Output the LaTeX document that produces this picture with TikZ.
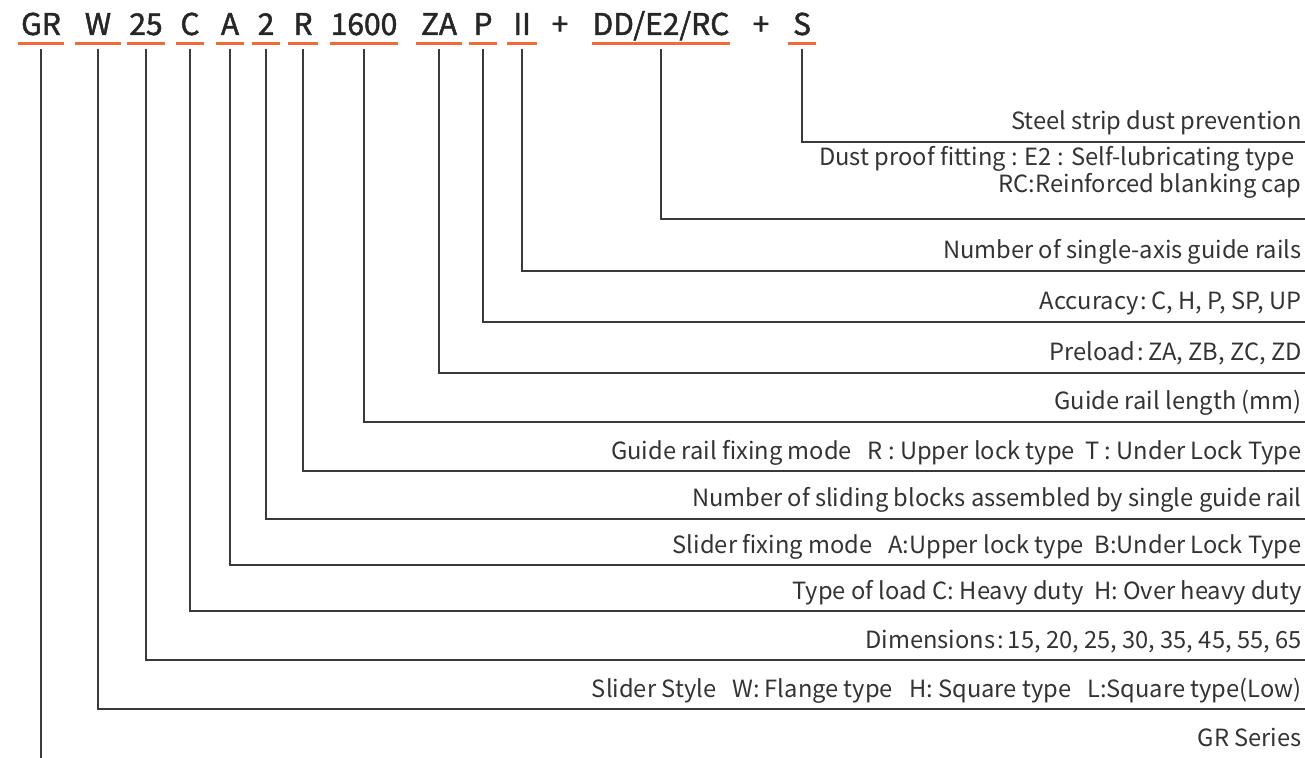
\documentclass[tikz,border=0pt]{standalone}
\usepackage{fontspec}
\setmainfont{Noto Sans CJK SC}
\newfontfamily\codefont{Noto Sans CJK SC}[FakeBold=1.6]
\usepackage{tikz}
\usetikzlibrary{positioning,calc}
\definecolor{CodeC}{HTML}{262626}
\definecolor{TextC}{HTML}{333333}
\definecolor{LineC}{HTML}{3A3A3A}
\definecolor{MarkC}{HTML}{F26A35}
\newcommand{\wcolon}{\kern1pt:\kern2pt}
\newcommand{\wgap}{\hspace*{8pt}}
\tikzset{
  code/.style={font=\fontsize{15}{16}\codefont,text=CodeC,anchor=base,
    inner xsep=0pt,inner ysep=4pt,text depth=0pt},
  uline/.style={MarkC,line width=1.5pt},
  conn/.style={LineC,line width=.75pt},
  desc/.style={font=\fontsize{11.85}{12.5}\selectfont,text=TextC,anchor=base east,inner sep=0pt},
}

\begin{document}
\begin{tikzpicture}[x=0.5pt,y=-0.5pt]
\useasboundingbox (0,0) rectangle (1305,758);

% ---------- model code ----------
\foreach \nm/\xx/\ww/\txt in {ser/41/45/GR, sty/98/45/W, dim/146/38/25, load/190/27/C,
    fix/230/27/A, num/266/27/2, rail/303/29/R, len/364/65/1600, pre/439/46/ZA,
    acc/483/28/P, axis/522/29/II, dust/661/136/{DD/E2/RC}, strip/802/28/S}{
  \node[code,minimum width=\ww*0.5pt] (code\nm) at (\xx,35) {\txt};
  \draw[uline] (code\nm.south west) -- (code\nm.south east);}
\node[code] (plusA) at (560,35) {+};
\node[code] (plusB) at (761,35) {+};

% ---------- explanation rows ----------
\foreach \nm/\yy/\txt in {strip/142/{Steel strip dust prevention},
    axis/271/{Number of single-axis guide rails},
    acc/322/{Accuracy\wcolon C, H, P, SP, UP},
    pre/373/{Preload\wcolon ZA, ZB, ZC, ZD},
    len/422/{Guide rail length (mm)},
    rail/471/{Guide rail fixing mode~~~R : Upper lock type~~T : Under Lock Type},
    num/519/{Number of sliding blocks assembled by single guide rail},
    fix/565/{Slider fixing mode~~~A:Upper lock type~~B:Under Lock Type},
    load/611/{Type of load C: Heavy duty~~H: Over heavy duty},
    dim/660/{Dimensions\wcolon 15, 20, 25, 30, 35, 45, 55, 65},
    sty/709/{Slider Style\wgap W: Flange type\wgap H: Square type\wgap L:Square type(Low)}}{
  \coordinate (row\nm) at (0,\yy);
  \coordinate (bend\nm) at (code\nm |- row\nm);
  \coordinate (end\nm) at (1305,\yy);
  \draw[conn] ([yshift=-3pt]code\nm.south) -- (bend\nm) -- (end\nm);
  \node[desc] (desc\nm) at (1302,\yy-12) {\txt};}

% two-line row and the series
\coordinate (rowdust) at (0,219);
\coordinate (benddust) at (codedust |- rowdust);
\coordinate (enddust) at (1305,219);
\draw[conn] ([yshift=-3pt]codedust.south) -- (benddust) -- (enddust);
\node[desc,align=right] (descdust) at (1302,193)
  {Dust proof fitting : E2 : Self-lubricating type\hspace*{3.5pt}\\RC:Reinforced blanking cap};
\coordinate (rowser) at (0,758);
\coordinate (endser) at (codeser |- rowser);
\draw[conn] ([yshift=-3pt]codeser.south) -- (endser);
\node[desc] (descser) at (1302,746) {GR Series};
\end{tikzpicture}
\end{document}
